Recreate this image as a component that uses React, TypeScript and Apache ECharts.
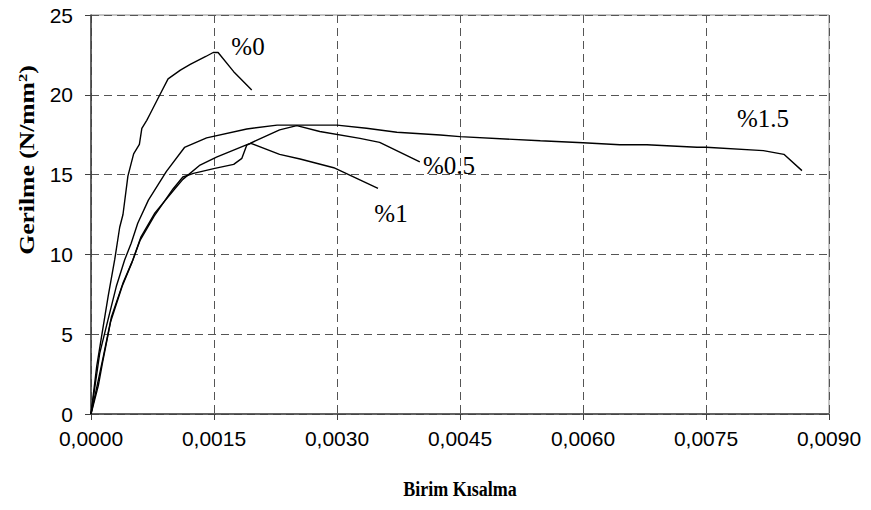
import React, { useEffect, useRef } from "react";
import * as echarts from "echarts";

// Strain (Birim Kısalma) vs. stress (Gerilme, N/mm²) for four fibre ratios
const curve0: [number, number][] = [
  [0, 0], [0.00007, 3.0], [0.00013, 4.9], [0.00021, 7.4], [0.00029, 9.7],
  [0.00035, 11.7], [0.00039, 12.5], [0.00045, 14.9], [0.00049, 15.7],
  [0.00052, 16.3], [0.00059, 16.9], [0.00062, 17.9], [0.00068, 18.4],
  [0.00072, 18.8], [0.00084, 20.0], [0.00094, 21.0], [0.00109, 21.55],
  [0.00121, 21.9], [0.0014, 22.4], [0.00149, 22.65], [0.00155, 22.65],
  [0.00174, 21.45], [0.00196, 20.3],
];

const curve05: [number, number][] = [
  [0, 0], [0.00008, 1.9], [0.00015, 3.6], [0.00025, 6.1], [0.00039, 8.2],
  [0.00051, 9.65], [0.00061, 11.1], [0.00078, 12.6], [0.00102, 14.1],
  [0.00112, 14.7], [0.00133, 15.6], [0.00153, 16.1], [0.00194, 16.96],
  [0.0023, 17.8], [0.00251, 18.07], [0.00279, 17.7], [0.00328, 17.27],
  [0.00352, 17.02], [0.00401, 15.8],
];

const curve1: [number, number][] = [
  [0, 0], [0.00009, 1.8], [0.00014, 3.2], [0.00024, 5.8], [0.00038, 8.0],
  [0.0005, 9.5], [0.0006, 10.9], [0.00077, 12.4], [0.001, 14.1],
  [0.00112, 14.85], [0.00125, 15.08], [0.00151, 15.39], [0.00174, 15.64],
  [0.00184, 16.02], [0.0019, 16.85], [0.00195, 16.96], [0.0023, 16.27],
  [0.00255, 15.98], [0.00296, 15.43], [0.0035, 14.14],
];

const curve15: [number, number][] = [
  [0, 0], [0.000106, 3.8], [0.000207, 5.9], [0.000309, 8.0], [0.00041, 9.65],
  [0.00049, 10.7], [0.00057, 11.95], [0.0007, 13.4], [0.00092, 15.2],
  [0.00114, 16.7], [0.00141, 17.3], [0.0019, 17.86], [0.00227, 18.1],
  [0.003, 18.1], [0.00336, 17.9], [0.00373, 17.65], [0.00426, 17.48],
  [0.0045, 17.38], [0.00548, 17.12], [0.006, 17.0], [0.00645, 16.87],
  [0.00678, 16.87], [0.00739, 16.71], [0.0075, 16.71], [0.0082, 16.5],
  [0.00845, 16.27], [0.00867, 15.25],
];

const seriesNames = ["%0", "%0.5", "%1", "%1.5"];
const seriesData = [curve0, curve05, curve1, curve15];

const xTickStep = 0.0015;
const xMax = 0.009;
const yTickStep = 5;
const yMax = 25;

const xTitle = "Birim Kısalma";
const yTitle = "Gerilme (N/mm{sup|2})";

export default function App() {
  const ref = useRef<HTMLDivElement>(null);

  useEffect(() => {
    document.body.style.margin = "0";
    const chart = echarts.init(ref.current!, null, { renderer: "svg" });
    const serif = "'Liberation Serif', 'Times New Roman', serif";
    const sans = "'Liberation Sans', Arial, sans-serif";
    const labelPos: [number, number][] = [
      [248, 46],
      [449, 165],
      [391, 213],
      [763, 118],
    ];
    chart.setOption({
      animation: false,
      backgroundColor: "#ffffff",
      grid: {
        left: 91,
        right: 42,
        top: 15,
        bottom: 96,
        show: true,
        borderColor: "#8c8c8c",
        borderWidth: 1,
      },
      xAxis: {
        type: "value",
        min: 0,
        max: xMax,
        interval: xTickStep,
        axisLine: { lineStyle: { color: "#404040", width: 1.5 } },
        axisTick: { show: true, length: 6, lineStyle: { color: "#404040" } },
        axisLabel: {
          margin: 14,
          color: "#000",
          fontFamily: sans,
          fontSize: 21,
          formatter: (v: number) => v.toFixed(4).replace(".", ","),
        },
        splitLine: {
          show: true,
          lineStyle: { color: "#555", type: [8, 5], width: 1 },
        },
      },
      yAxis: {
        type: "value",
        min: 0,
        max: yMax,
        interval: yTickStep,
        axisLine: { show: true, lineStyle: { color: "#404040", width: 1.5 } },
        axisTick: { show: true, length: 6, lineStyle: { color: "#404040" } },
        axisLabel: {
          margin: 18,
          color: "#000",
          fontFamily: sans,
          fontSize: 21,
        },
        splitLine: {
          show: true,
          lineStyle: { color: "#555", type: [8, 5], width: 1 },
        },
      },
      series: seriesData.map((d, i) => ({
        name: seriesNames[i],
        type: "line",
        data: d,
        symbol: "none",
        showSymbol: false,
        smooth: false,
        lineStyle: { color: "#000", width: 1.4 },
        z: 5,
      })),
      graphic: [
        ...seriesNames.map((n, i) => ({
          type: "text",
          x: labelPos[i][0],
          y: labelPos[i][1],
          z: 10,
          style: {
            text: n,
            fill: "#000",
            font: `25px ${serif}`,
            align: "center",
            verticalAlign: "middle",
          },
        })),
        {
          type: "text",
          x: 460,
          y: 489,
          scaleY: 1.15,
          style: {
            text: xTitle,
            fill: "#000",
            font: `bold 18px ${serif}`,
            align: "center",
            verticalAlign: "middle",
          },
        },
        {
          type: "text",
          x: 27,
          y: 160,
          rotation: Math.PI / 2,
          scaleX: 1.28,
          style: {
            text: yTitle,
            fill: "#000",
            fontFamily: serif,
            fontWeight: "bold",
            fontSize: 20,
            align: "center",
            verticalAlign: "middle",
            rich: {
              sup: {
                fontFamily: serif,
                fontWeight: "bold",
                fontSize: 13,
                verticalAlign: "top",
                padding: [0, 0, 9, 0],
              },
            },
          },
        },
      ],
    });
    return () => chart.dispose();
  }, []);

  return <div ref={ref} style={{ width: 871, height: 510 }} />;
}
